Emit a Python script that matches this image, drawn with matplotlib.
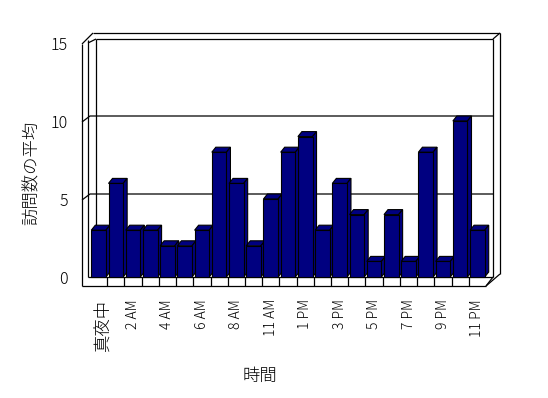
import matplotlib
matplotlib.use("Agg")
import matplotlib.pyplot as plt
from matplotlib.patches import Polygon
from matplotlib.transforms import ScaledTranslation
import numpy as np

plt.rcParams['font.family'] = ['Noto Sans CJK JP', 'DejaVu Sans']

# ---- data ----
categories = ["真夜中", "1 AM", "2 AM", "3 AM", "4 AM", "5 AM", "6 AM", "7 AM",
              "8 AM", "9 AM", "11 AM", "正午", "1 PM", "2 PM", "3 PM", "4 PM",
              "5 PM", "6 PM", "7 PM", "8 PM", "9 PM", "10 PM", "11 PM"]
values = [3, 6, 3, 3, 2, 2, 3, 8, 6, 2, 5, 8, 9, 3, 6, 4, 1, 4, 1, 8, 1, 10, 3]
y_ticks = [0, 5, 10, 15]
y_label = "訪問数の平均"
x_label = "時間"

W, H = 548, 398
fig = plt.figure(figsize=(W / 100, H / 100), dpi=100)
ax_l, ax_r, ax_t, ax_b = 90, 486, 43, 277
ax = fig.add_axes([ax_l / W, 1 - ax_b / H, (ax_r - ax_l) / W, (ax_b - ax_t) / H])
n = len(values)
ax.set_xlim(-0.5, n - 0.5)
ax.set_ylim(0, 15)
for s in ax.spines.values():
    s.set_visible(False)

ux = (ax_r - ax_l) / n      # px per category
uy = (ax_b - ax_t) / 15.0   # px per unit

def px(x):
    return (x - ax_l) / ux - 0.5

def py(y):
    return (ax_b - y) / uy

lc = 'black'
lw = 0.9
kw = dict(color=lc, lw=lw, clip_on=False, zorder=1, solid_capstyle='butt')

# back wall
xb0, xb1 = px(96), px(493)
ytop_in = py(39)
ytop_out = py(33)
ax.plot([xb0, xb0], [py(272), ytop_in], **kw)
ax.plot([xb0, xb1], [ytop_in, ytop_in], **kw)
ax.plot([xb1, xb1], [ytop_in, 0], **kw)
# outer frame
xf = px(82)
xm = px(88)
xo = px(500)
ax.plot([xf, xf], [py(286), py(44)], **kw)
ax.plot([xf, px(93)], [py(44), ytop_out], **kw)
ax.plot([px(93), xo], [ytop_out, ytop_out], **kw)
ax.plot([xo, xo], [ytop_out, py(274)], **kw)
ax.plot([xo, xb1], [ytop_out, ytop_in], **kw)
ax.plot([xm, xm], [py(40), 0], **kw)
ax.plot([xm, xb0], [py(43), ytop_in], **kw)
# gridlines (left wall diagonal + back wall)
for v in y_ticks[1:3]:
    yfv = py(278 - uy * v)
    ybv = py(272 - uy * v)
    ax.plot([xf, px(90), xb1], [yfv, ybv, ybv], **kw)
# floor
yfl = py(286)
ax.plot([xf, px(486)], [yfl, yfl], **kw)
ax.plot([xm, xb1], [0, 0], **kw)
ax.plot([px(486), xo], [yfl, py(274)], **kw)
ax.plot([px(486), xb1], [yfl, 0], **kw)
for k in range(1, n):
    ax.plot([k - 0.5, k - 0.5], [0, yfl], **kw)

# bars with 3D faces
color = '#000080'
bw = 0.85
ddx = 4 / ux
ddy = 5 / uy
for i, v in enumerate(values):
    x0 = i - bw / 2
    x1 = i + bw / 2
    top = Polygon([(x0, v), (x1, v), (x1 + ddx, v + ddy), (x0 + ddx, v + ddy)],
                  closed=True, facecolor=color, edgecolor='black', lw=0.8,
                  zorder=3 + 2 * i, clip_on=False)
    side = Polygon([(x1, 0), (x1 + ddx, ddy), (x1 + ddx, v + ddy), (x1, v)],
                   closed=True, facecolor=color, edgecolor='black', lw=0.8,
                   zorder=3 + 2 * i, clip_on=False)
    ax.add_patch(top)
    ax.add_patch(side)
    ax.bar(i, v, width=bw, color=color, edgecolor='black', lw=0.8,
           zorder=4 + 2 * i, clip_on=False)

# ticks
tick_idx = list(range(0, n, 2))
ax.set_xticks(tick_idx)
ax.set_xticklabels([categories[i] for i in tick_idx], rotation=90, va='top', ha='center',
                   fontweight='light')
ax.tick_params(axis='x', length=0, pad=16, labelsize=10)
for lab in ax.get_xticklabels():
    if lab.get_text() == "真夜中":
        lab.set_fontsize(12.5)
        lab.set_transform(lab.get_transform() + ScaledTranslation(5 / 100, 0, fig.dpi_scale_trans))
ax.set_yticks(y_ticks)
ax.set_yticklabels([str(t) for t in y_ticks], fontweight='light')
ax.tick_params(axis='y', length=0, pad=16, labelsize=11.5)

fig.text(32 / W, 1 - 173 / H, y_label, rotation=90, ha='center', va='center',
         fontsize=12.5, fontweight='light')
fig.text(260 / W, 1 - 376 / H, x_label, ha='center', va='center',
         fontsize=12.5, fontweight='light')

fig.savefig("out.png", dpi=100, facecolor='white')
